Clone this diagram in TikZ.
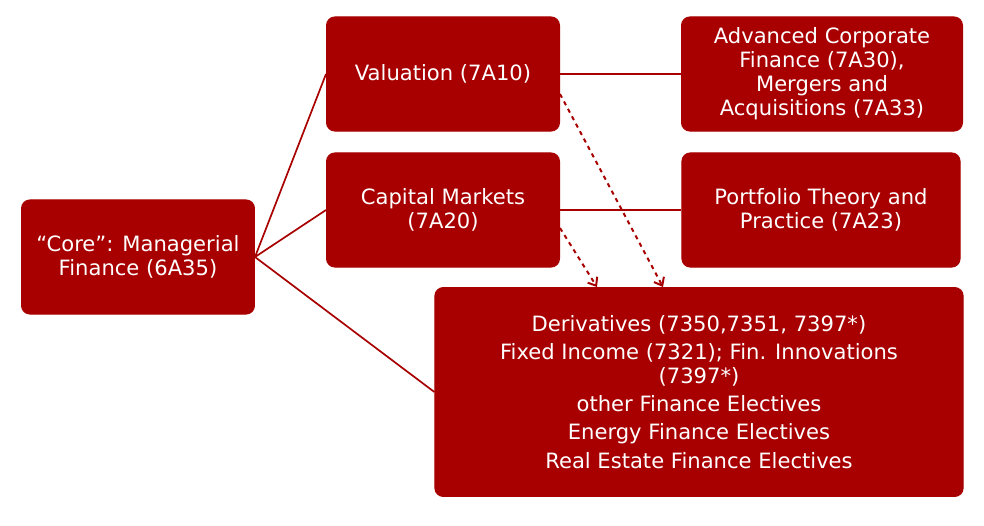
\documentclass[tikz,border=0pt]{standalone}
\usepackage{fontspec}
\setmainfont{DejaVu Sans}
\usetikzlibrary{positioning,arrows.meta}
\definecolor{finred}{HTML}{A80000}
\tikzset{every picture/.style={line width=0.8pt}}
\tikzset{
  coursebox/.style={fill=finred, draw=finred, rounded corners=6pt, text=white,
    align=center, font=\fontsize{15}{17}\selectfont, inner sep=2pt},
  link/.style={finred, line width=1.2pt},
  prereq/.style={finred, line width=1.4pt, dashed, -{Straight Barb[length=5pt,width=8pt]}}
}
\begin{document}
\begin{tikzpicture}[x=0.025cm, y=-0.025cm]
    \useasboundingbox (0,0) rectangle (984,525);

    % Course boxes
    \node[coursebox, minimum width=5.82cm, minimum height=2.85cm] (core) at (138,257) {``Core'': Managerial\\Finance (6A35)};
    \node[coursebox, minimum width=5.82cm, minimum height=2.85cm] (val) at (443,74) {Valuation (7A10)};
    \node[coursebox, minimum width=5.82cm, minimum height=2.85cm] (cap) at (443,210) {Capital Markets\\(7A20)};
    \node[coursebox, minimum width=7.02cm, minimum height=2.85cm] (adv) at (822,74) {Advanced Corporate\\Finance (7A30),\\Mergers and\\Acquisitions (7A33)};
    \node[coursebox, minimum width=6.95cm, minimum height=2.85cm] (port) at (821,210) {Portfolio Theory and\\Practice (7A23)};
    \node[coursebox, minimum width=13.2cm, minimum height=5.22cm] (elec) at (699,392) {Derivatives (7350,7351, 7397*)\\[3pt]
        Fixed Income (7321); Fin. Innovations\\(7397*)\\[3pt]
        other Finance Electives\\[3pt]
        Energy Finance Electives\\[3pt]
        Real Estate Finance Electives};

    % Tree connectors
    \foreach \t in {val,cap,elec} {
        \draw[link] (core.east) -- (\t.west);
    }
    \draw[link] (val.east) -- (adv.west);
    \draw[link] (cap.east) -- (port.west);

    % Dashed prerequisite arrows
    \draw[prereq] ([yshift=-0.5cm]val.east) -- ([xshift=-0.9cm]elec.north);
    \draw[prereq] ([yshift=-0.45cm]cap.east) -- ([xshift=-2.55cm]elec.north);
\end{tikzpicture}
\end{document}
